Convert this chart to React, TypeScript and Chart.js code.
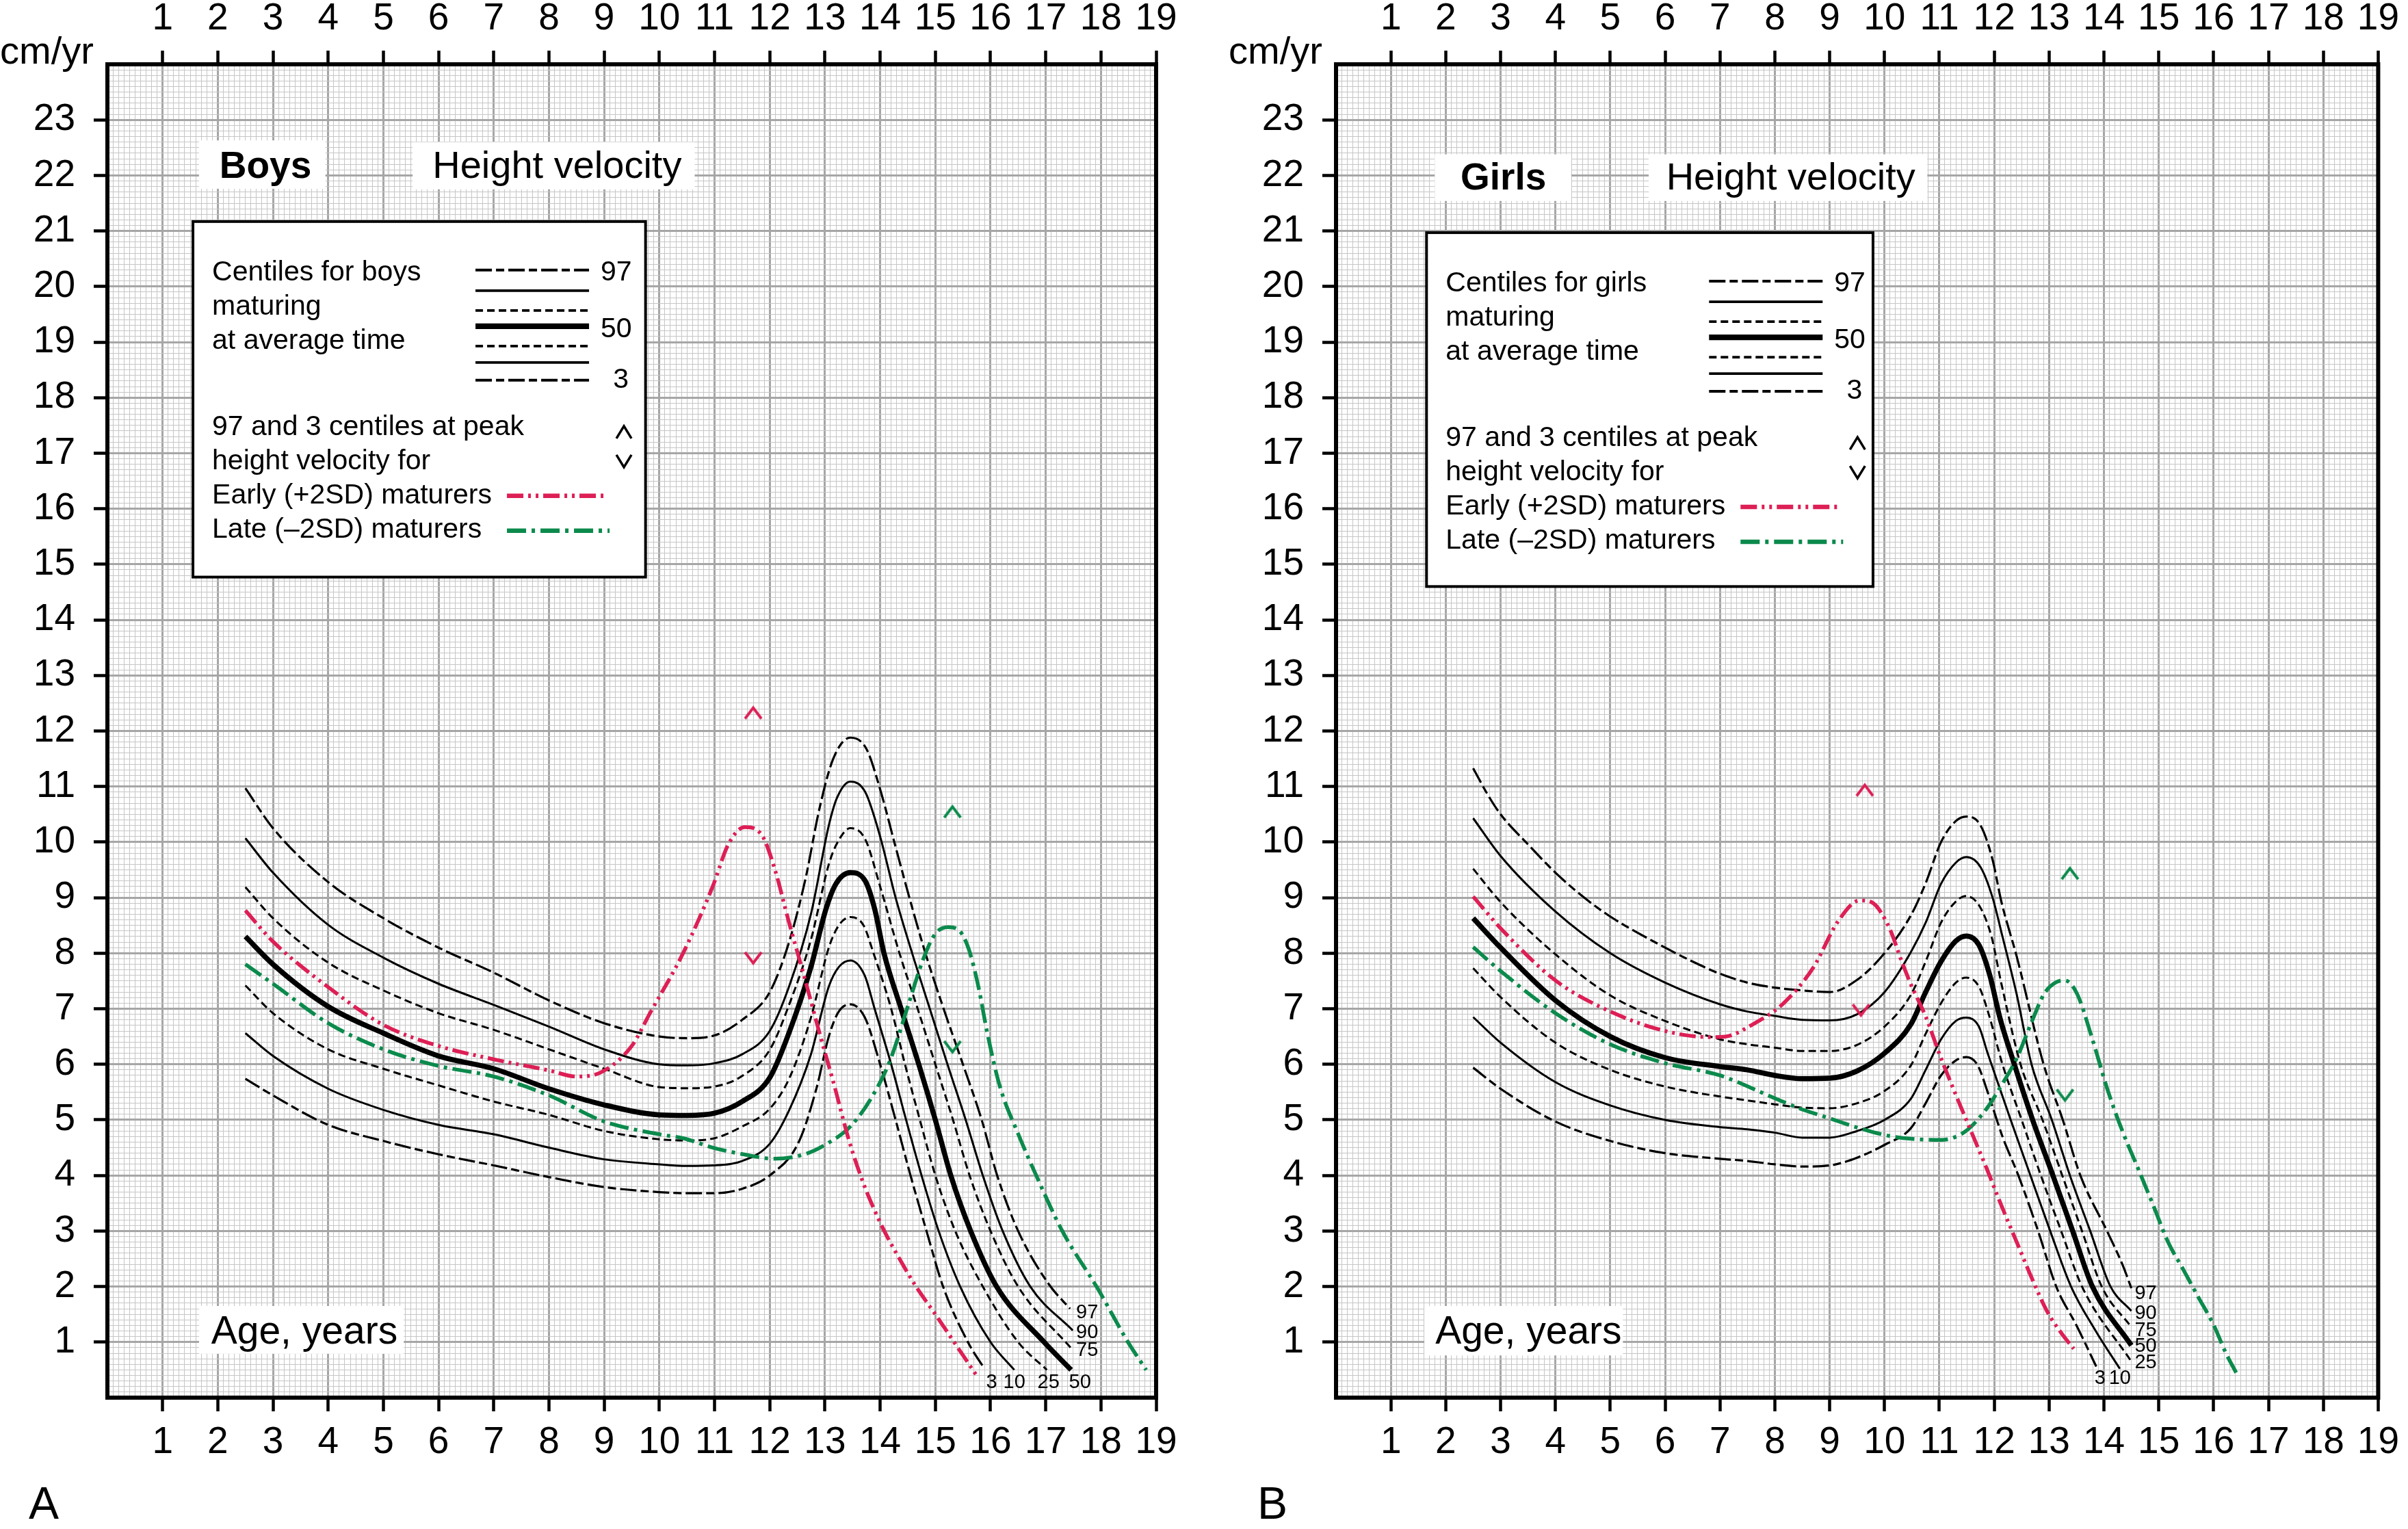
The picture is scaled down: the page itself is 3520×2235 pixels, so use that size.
import React, { useEffect, useRef } from "react";
import { Chart, registerables } from "chart.js";

Chart.register(...registerables);

type Pt = [number, number];

const FONT = "'Liberation Sans', Arial, Helvetica, sans-serif";

// ---------------- axis tick labels ----------------
const ageTickLabels = [1, 2, 3, 4, 5, 6, 7, 8, 9, 10, 11, 12, 13, 14, 15, 16, 17, 18, 19];
const velocityTickLabels = [1, 2, 3, 4, 5, 6, 7, 8, 9, 10, 11, 12, 13, 14, 15, 16, 17, 18, 19, 20, 21, 22, 23];
const centileNames = ["97", "90", "75", "50", "25", "10", "3"];

// ---------------- Boys (age, cm/yr) ----------------
const boys97: Pt[] = [[2.5,10.97],[3,10.25],[4,9.28],[5,8.63],[6,8.1],[7,7.65],[8,7.15],[9,6.74],[10,6.5],[10.5,6.47],[11,6.52],[11.5,6.8],[12,7.3],[12.35,8.2],[12.65,9.35],[12.9,10.6],[13.15,11.5],[13.46,11.88],[13.75,11.68],[14.0,10.95],[14.27,9.95],[14.53,9.0],[14.82,8.0],[15.15,7.0],[15.5,6.0],[15.84,5.0],[16.12,4.0],[16.5,3.0],[17.05,2.05],[17.44,1.6]];
const boys90: Pt[] = [[2.5,10.07],[3,9.45],[4,8.51],[5,7.92],[6,7.45],[7,7.07],[8,6.68],[9,6.27],[10,6.0],[10.5,5.98],[11,6.02],[11.5,6.18],[12,6.6],[12.35,7.4],[12.75,8.72],[13.07,10.3],[13.22,10.8],[13.46,11.09],[13.73,10.9],[14.0,10.1],[14.28,9.0],[14.58,8.0],[14.9,7.0],[15.22,6.0],[15.55,5.0],[15.86,4.0],[16.22,3.0],[16.72,2.0],[17.49,1.21]];
const boys75: Pt[] = [[2.5,9.19],[3,8.63],[4,7.83],[5,7.33],[6,6.92],[7,6.62],[8,6.27],[9,5.92],[10,5.59],[10.5,5.57],[11,5.6],[11.5,5.79],[12,6.26],[12.35,7.07],[12.74,8.22],[13.07,9.6],[13.22,9.98],[13.46,10.25],[13.73,10.05],[14.0,9.2],[14.35,8.0],[14.68,7.0],[15.0,6.0],[15.32,5.0],[15.62,4.0],[16.0,3.0],[16.5,2.0],[17.46,0.89]];
const boys50: Pt[] = [[2.5,8.3],[3,7.8],[4,7.04],[5,6.56],[6,6.15],[7,5.92],[8,5.56],[9,5.27],[10,5.09],[10.5,5.08],[11,5.12],[11.5,5.33],[12,5.76],[12.35,6.57],[12.74,7.73],[13.02,8.8],[13.2,9.25],[13.46,9.45],[13.73,9.3],[13.9,8.8],[14.07,8.0],[14.38,7.0],[14.7,6.0],[15.0,5.0],[15.28,4.0],[15.64,3.0],[16.11,2.0],[16.97,1.0],[17.46,0.5]];
const boys25: Pt[] = [[2.5,7.42],[3,6.92],[4,6.27],[5,5.92],[6,5.62],[7,5.33],[8,5.09],[9,4.8],[10,4.65],[10.5,4.63],[11,4.67],[11.5,4.88],[12,5.2],[12.35,5.74],[12.74,6.82],[13.07,8.1],[13.25,8.5],[13.46,8.65],[13.7,8.5],[13.88,8.0],[14.2,7.0],[14.45,6.0],[14.72,5.0],[15.0,4.0],[15.36,3.0],[15.86,2.0],[16.5,1.0],[17.02,0.5]];
const boys10: Pt[] = [[2.5,6.56],[3,6.15],[4,5.56],[5,5.18],[6,4.91],[7,4.74],[8,4.5],[9,4.29],[10,4.2],[10.5,4.17],[11,4.18],[11.5,4.26],[12,4.57],[12.35,5.17],[12.74,6.16],[13.07,7.4],[13.25,7.75],[13.46,7.87],[13.72,7.6],[13.9,7.0],[14.2,6.0],[14.47,5.0],[14.75,4.0],[15.06,3.0],[15.45,2.0],[16.0,1.0],[16.43,0.5]];
const boys3: Pt[] = [[2.5,5.74],[3,5.44],[4,4.91],[5,4.62],[6,4.38],[7,4.18],[8,3.97],[9,3.79],[10,3.7],[10.5,3.68],[11,3.68],[11.5,3.76],[12,4.0],[12.52,4.59],[12.85,5.58],[13.07,6.5],[13.25,6.95],[13.46,7.08],[13.72,6.85],[14.0,6.0],[14.28,5.0],[14.55,4.0],[14.84,3.0],[15.14,2.0],[15.59,1.0],[15.89,0.52]];
const boysEarly: Pt[] = [[2.5,8.77],[3,8.21],[4,7.39],[5,6.71],[6,6.33],[7,6.09],[8,5.89],[8.5,5.78],[8.95,5.86],[9.5,6.33],[9.83,6.92],[10.43,8.0],[10.97,9.21],[11.25,9.96],[11.55,10.27],[11.86,10.12],[12.08,9.55],[12.35,8.55],[12.63,7.56],[12.9,6.57],[13.18,5.58],[13.43,4.65],[13.7,3.85],[14.05,3.05],[14.35,2.5],[14.65,2.0],[15.0,1.5],[15.34,1.0],[15.78,0.35]];
const boysLate: Pt[] = [[2.5,7.8],[3,7.45],[4,6.74],[5,6.27],[6,5.97],[7,5.78],[8,5.44],[9,4.97],[10,4.74],[10.43,4.67],[10.97,4.5],[11.52,4.38],[12.08,4.3],[12.63,4.38],[13.07,4.59],[13.46,4.88],[13.85,5.41],[14.18,6.07],[14.51,7.07],[14.78,7.89],[15.0,8.35],[15.23,8.47],[15.45,8.39],[15.61,8.06],[15.78,7.4],[15.94,6.57],[16.17,5.6],[16.5,4.75],[16.85,3.95],[17.3,3.0],[17.95,1.95],[18.49,1.0],[18.82,0.5]];
const boysEarlyPeakRange: Pt[] = [[11.7,12.32],[11.7,7.92]];
const boysLatePeakRange: Pt[] = [[15.31,10.54],[15.31,6.32]];

// ---------------- Girls (age, cm/yr) ----------------
const girls97: Pt[] = [[2.5,11.33],[2.75,10.88],[3,10.5],[3.5,9.96],[4,9.45],[4.5,9.02],[5,8.66],[6,8.1],[6.5,7.85],[7,7.63],[7.5,7.47],[8,7.38],[8.5,7.33],[9,7.3],[9.5,7.52],[10,8.0],[10.48,8.68],[10.75,9.26],[11.03,10.0],[11.3,10.38],[11.49,10.46],[11.75,10.3],[11.97,9.68],[12.13,8.93],[12.41,7.94],[12.9,6.0],[13.25,5.0],[13.57,4.0],[14.07,2.97],[14.34,2.39],[14.5,1.97]];
const girls90: Pt[] = [[2.5,10.43],[3,9.75],[4,8.75],[5,8.0],[6,7.47],[7,7.08],[7.5,6.95],[8,6.87],[8.5,6.8],[9,6.79],[9.5,6.9],[10,7.3],[10.48,8.02],[10.75,8.55],[11.03,9.25],[11.3,9.63],[11.49,9.73],[11.75,9.55],[11.97,9.0],[12.15,8.3],[12.4,7.3],[12.68,6.0],[13.05,5.0],[13.38,4.0],[13.75,3.0],[14.12,2.0],[14.5,1.56]];
const girls75: Pt[] = [[2.5,9.52],[3,8.92],[4,7.98],[5,7.24],[6,6.78],[7,6.45],[7.5,6.36],[8,6.3],[8.5,6.24],[9,6.24],[9.5,6.35],[10,6.68],[10.48,7.25],[10.75,7.85],[11.03,8.55],[11.3,8.93],[11.49,9.03],[11.73,8.85],[11.95,8.3],[12.12,7.5],[12.48,6.0],[12.88,5.0],[13.24,4.0],[13.6,3.0],[13.96,2.0],[14.5,1.27]];
const girls50: Pt[] = [[2.5,8.63],[3,8.1],[4,7.15],[5,6.5],[6,6.12],[7,5.96],[7.5,5.9],[8,5.8],[8.5,5.74],[9,5.75],[9.5,5.88],[10,6.2],[10.48,6.72],[10.75,7.3],[11.03,7.85],[11.3,8.22],[11.49,8.31],[11.72,8.15],[11.92,7.6],[12.1,6.85],[12.35,6.05],[12.7,5.0],[13.07,4.0],[13.43,3.0],[13.79,2.0],[14.5,0.94]];
const girls25: Pt[] = [[2.5,7.73],[3,7.21],[4,6.39],[5,5.9],[6,5.6],[7,5.42],[7.5,5.35],[8,5.28],[8.5,5.22],[9,5.21],[9.5,5.3],[10,5.52],[10.48,5.98],[10.75,6.55],[11.03,7.1],[11.3,7.47],[11.49,7.56],[11.72,7.4],[11.9,6.9],[12.15,6.0],[12.5,5.0],[12.85,4.0],[13.22,3.0],[13.6,2.0],[14.5,0.65]];
const girls10: Pt[] = [[2.5,6.85],[3,6.39],[4,5.68],[5,5.26],[6,5.0],[7,4.87],[7.5,4.83],[8,4.77],[8.5,4.68],[9,4.68],[9.5,4.8],[10,5.0],[10.48,5.38],[10.75,5.9],[11.03,6.45],[11.3,6.78],[11.49,6.84],[11.72,6.68],[11.88,6.2],[11.95,6.0],[12.3,5.0],[12.66,4.0],[13.02,3.0],[13.4,2.0],[13.85,1.2],[14.29,0.52]];
const girls3: Pt[] = [[2.5,5.94],[3,5.56],[4,4.97],[5,4.62],[6,4.4],[7,4.3],[7.5,4.26],[8,4.2],[8.5,4.16],[9,4.18],[9.5,4.32],[10,4.55],[10.48,4.85],[10.75,5.3],[11.03,5.8],[11.3,6.07],[11.49,6.13],[11.7,5.98],[11.88,5.5],[12.15,4.7],[12.44,4.0],[12.8,3.0],[13.13,2.0],[13.5,1.3],[13.86,0.56]];
const girlsEarly: Pt[] = [[2.5,9.02],[3,8.45],[4,7.51],[5,6.95],[6,6.6],[6.8,6.49],[7.1,6.5],[7.6,6.72],[8.16,7.1],[8.7,7.74],[9.15,8.57],[9.55,8.95],[9.76,8.92],[10.09,8.45],[10.31,7.86],[10.48,7.44],[10.75,6.86],[11.03,6.11],[11.3,5.45],[11.58,4.79],[11.86,4.13],[12.13,3.46],[12.41,2.8],[12.69,2.14],[12.96,1.56],[13.24,1.14],[13.45,0.88]];
const girlsLate: Pt[] = [[2.5,8.11],[3,7.68],[4,6.92],[5,6.36],[6,6.02],[7,5.8],[7.88,5.44],[8.44,5.21],[8.99,5.03],[9.54,4.85],[10.09,4.71],[10.48,4.66],[11.03,4.64],[11.47,4.79],[11.86,5.2],[12.13,5.62],[12.41,6.11],[12.69,6.78],[12.91,7.27],[13.13,7.48],[13.29,7.51],[13.51,7.27],[13.79,6.45],[14.07,5.53],[14.34,4.79],[14.62,4.13],[14.9,3.46],[15.17,2.8],[15.45,2.3],[15.72,1.81],[16.0,1.31],[16.22,0.81],[16.41,0.45]];
const girlsEarlyPeakRange: Pt[] = [[9.64,10.93],[9.57,6.98]];
const girlsLatePeakRange: Pt[] = [[13.38,9.43],[13.29,5.45]];

// ---------------- styles ----------------
const CENTILE_STYLE: Record<string, { w: number; dash: number[] }> = {
  "97": { w: 3.2, dash: [24, 6, 12, 6] },
  "90": { w: 3.0, dash: [] },
  "75": { w: 3.0, dash: [11, 6] },
  "50": { w: 7.5, dash: [] },
  "25": { w: 3.0, dash: [11, 6] },
  "10": { w: 3.0, dash: [] },
  "3": { w: 3.2, dash: [24, 6, 12, 6] },
};
const EARLY = { color: "#dd1f55", w: 5.5, dash: [24, 7, 4, 7, 4, 7] };
const LATE = { color: "#0b8a4c", w: 5.5, dash: [28, 8, 5, 8] };
const MAJOR = "#a6a6a6";
const MINOR = "#c6c6c6";

const isInt = (v: number) => Math.abs(v - Math.round(v)) < 1e-6;
const toXY = (pts: Pt[]) => pts.map(([x, y]) => ({ x, y }));

function chevron(color: string, up: boolean, w = 24, h = 16, lw = 4): HTMLCanvasElement {
  const c = document.createElement("canvas");
  c.width = w + 8;
  c.height = h + 8;
  const g = c.getContext("2d")!;
  g.strokeStyle = color;
  g.lineWidth = lw;
  g.lineJoin = "miter";
  g.beginPath();
  if (up) {
    g.moveTo(4, h + 4);
    g.lineTo(w / 2 + 4, 4);
    g.lineTo(w + 4, h + 4);
  } else {
    g.moveTo(4, 4);
    g.lineTo(w / 2 + 4, h + 4);
    g.lineTo(w + 4, 4);
  }
  g.stroke();
  return c;
}

interface Label { t: string; x: number; y: number; align: CanvasTextAlign }
interface PanelDef {
  key: string;
  canvasLeft: number;
  leftAxis: number;
  rightPad: number;
  centiles: Pt[][];
  early: Pt[];
  late: Pt[];
  earlyCarets: Pt[];
  lateCarets: Pt[];
  title: string;
  titleBox: number[];
  titleX: number;
  titleBase: number;
  hvBox: number[];
  hvX: number;
  legendBox: number[];
  legendHead: string[];
  ageBox: number[];
  ageX: number;
  ageBase: number;
  endLabels: Label[];
  letter: string;
}

const PANELS: PanelDef[] = [
  {
    key: "boys",
    canvasLeft: 0,
    leftAxis: 157,
    rightPad: 70,
    centiles: [boys97, boys90, boys75, boys50, boys25, boys10, boys3],
    early: boysEarly,
    late: boysLate,
    earlyCarets: boysEarlyPeakRange,
    lateCarets: boysLatePeakRange,
    title: "Boys",
    titleBox: [1.66, 22.63, 3.95, 21.76],
    titleX: 2.03,
    titleBase: 21.95,
    hvBox: [5.53, 22.6, 10.64, 21.75],
    hvX: 5.89,
    legendBox: [1.55, 21.17, 9.75, 14.77],
    legendHead: ["Centiles for boys", "maturing", "at average time"],
    ageBox: [1.66, 1.65, 5.37, 0.79],
    ageX: 1.88,
    ageBase: 0.97,
    endLabels: [
      { t: "97", x: 17.55, y: 1.53, align: "left" },
      { t: "90", x: 17.55, y: 1.17, align: "left" },
      { t: "75", x: 17.55, y: 0.85, align: "left" },
      { t: "3", x: 16.02, y: 0.27, align: "center" },
      { t: "10", x: 16.43, y: 0.27, align: "center" },
      { t: "25", x: 17.05, y: 0.27, align: "center" },
      { t: "50", x: 17.62, y: 0.27, align: "center" },
    ],
    letter: "A",
  },
  {
    key: "girls",
    canvasLeft: 1760,
    leftAxis: 193,
    rightPad: 34,
    centiles: [girls97, girls90, girls75, girls50, girls25, girls10, girls3],
    early: girlsEarly,
    late: girlsLate,
    earlyCarets: girlsEarlyPeakRange,
    lateCarets: girlsLatePeakRange,
    title: "Girls",
    titleBox: [1.8, 22.38, 4.29, 21.54],
    titleX: 2.27,
    titleBase: 21.75,
    hvBox: [5.7, 22.38, 10.78, 21.54],
    hvX: 6.02,
    legendBox: [1.65, 20.97, 9.79, 14.6],
    legendHead: ["Centiles for girls", "maturing", "at average time"],
    ageBox: [1.61, 1.65, 5.23, 0.76],
    ageX: 1.81,
    ageBase: 0.97,
    endLabels: [
      { t: "97", x: 14.56, y: 1.87, align: "left" },
      { t: "90", x: 14.56, y: 1.52, align: "left" },
      { t: "75", x: 14.56, y: 1.21, align: "left" },
      { t: "50", x: 14.56, y: 0.92, align: "left" },
      { t: "25", x: 14.56, y: 0.63, align: "left" },
      { t: "3", x: 13.93, y: 0.34, align: "center" },
      { t: "10", x: 14.29, y: 0.34, align: "center" },
    ],
    letter: "B",
  },
];

function overlayPlugin(p: PanelDef) {
  return {
    id: "overlay_" + p.key,
    afterDraw(chart: any) {
      const ctx = chart.ctx as CanvasRenderingContext2D;
      const xs = chart.scales.x;
      const ys = chart.scales.y;
      const a = chart.chartArea;
      const X = (v: number) => xs.getPixelForValue(v);
      const Y = (v: number) => ys.getPixelForValue(v);
      ctx.save();
      const box = (b: number[], stroke = 0) => {
        const x0 = X(b[0]), y0 = Y(b[1]), x1 = X(b[2]), y1 = Y(b[3]);
        ctx.fillStyle = "#fff";
        ctx.fillRect(x0, y0, x1 - x0, y1 - y0);
        if (stroke) {
          ctx.setLineDash([]);
          ctx.lineWidth = stroke;
          ctx.strokeStyle = "#000";
          ctx.strokeRect(x0, y0, x1 - x0, y1 - y0);
        }
        return [x0, y0];
      };
      const text = (s: string, x: number, y: number, size: number, bold = false, align: CanvasTextAlign = "left", base: CanvasTextBaseline = "alphabetic") => {
        ctx.font = `${bold ? "bold " : ""}${size}px ${FONT}`;
        ctx.fillStyle = "#000";
        ctx.textAlign = align;
        ctx.textBaseline = base;
        ctx.fillText(s, x, y);
      };
      const seg = (x0: number, x1: number, y: number, color: string, w: number, dash: number[]) => {
        ctx.beginPath();
        ctx.setLineDash(dash);
        ctx.lineWidth = w;
        ctx.strokeStyle = color;
        ctx.moveTo(x0, y);
        ctx.lineTo(x1, y);
        ctx.stroke();
        ctx.setLineDash([]);
      };
      const chev = (cx: number, cy: number, up: boolean) => {
        ctx.beginPath();
        ctx.setLineDash([]);
        ctx.lineWidth = 3.5;
        ctx.strokeStyle = "#000";
        const w = 11, h = 9;
        if (up) {
          ctx.moveTo(cx - w, cy + h);
          ctx.lineTo(cx, cy - h);
          ctx.lineTo(cx + w, cy + h);
        } else {
          ctx.moveTo(cx - w, cy - h);
          ctx.lineTo(cx, cy + h);
          ctx.lineTo(cx + w, cy - h);
        }
        ctx.stroke();
      };

      // title boxes
      box(p.titleBox);
      text(p.title, X(p.titleX), Y(p.titleBase), 55, true);
      box(p.hvBox);
      text("Height velocity", X(p.hvX), Y(p.titleBase), 56);
      box(p.ageBox);
      text("Age, years", X(p.ageX), Y(p.ageBase), 57);

      // legend
      const [lx, ly] = box(p.legendBox, 4);
      const lf = 41;
      p.legendHead.forEach((s, i) => text(s, lx + 28, ly + 86 + 50 * i, lf));
      ["97 and 3 centiles at peak", "height velocity for", "Early (+2SD) maturers", "Late (\u20132SD) maturers"].forEach((s, i) =>
        text(s, lx + 28, ly + 312 + 50 * i, lf)
      );
      const sampleY = [71, 101, 130, 153, 182, 206, 232];
      centileNames.forEach((n, i) => {
        const st = CENTILE_STYLE[n];
        seg(lx + 413, lx + 579, ly + sampleY[i], "#000", st.w + 0.8, st.dash);
      });
      text("97", lx + 596, ly + 86, lf);
      text("50", lx + 596, ly + 169, lf);
      text("3", lx + 637, ly + 243, lf, false, "right");
      chev(lx + 630, ly + 308, true);
      chev(lx + 630, ly + 350, false);
      seg(lx + 459, lx + 607, ly + 401, EARLY.color, EARLY.w + 1, EARLY.dash);
      seg(lx + 459, lx + 609, ly + 452, LATE.color, LATE.w + 1, LATE.dash);

      // end-of-curve centile labels
      p.endLabels.forEach((l) => text(l.t, X(l.x), Y(l.y), 29, false, l.align, "middle"));

      // unit label and panel letter
      text("cm/yr", a.left - 157, 93, 56);
      text(p.letter, a.left - 115, 2220, 66);

      // frame
      ctx.setLineDash([]);
      ctx.lineWidth = 6;
      ctx.strokeStyle = "#000";
      ctx.strokeRect(a.left, a.top, a.right - a.left, a.bottom - a.top);
      ctx.restore();
    },
  };
}

function buildConfig(p: PanelDef): any {
  const upE = chevron(EARLY.color, true);
  const dnE = chevron(EARLY.color, false);
  const upL = chevron(LATE.color, true);
  const dnL = chevron(LATE.color, false);

  const datasets: any[] = [];
  p.centiles.forEach((pts, i) => {
    const name = centileNames[i];
    const st = CENTILE_STYLE[name];
    datasets.push({
      label: name + "th centile",
      data: toXY(pts),
      borderColor: "#000",
      borderWidth: st.w,
      borderDash: st.dash,
      pointRadius: 0,
      fill: false,
      cubicInterpolationMode: "monotone",
      order: name === "50" ? 2 : 3,
    });
  });
  datasets.push({
    label: "Early (+2SD) maturers",
    data: toXY(p.early),
    borderColor: EARLY.color,
    borderWidth: EARLY.w,
    borderDash: EARLY.dash,
    pointRadius: 0,
    fill: false,
    cubicInterpolationMode: "monotone",
    order: 1,
  });
  datasets.push({
    label: "Late (\u20132SD) maturers",
    data: toXY(p.late),
    borderColor: LATE.color,
    borderWidth: LATE.w,
    borderDash: LATE.dash,
    pointRadius: 0,
    fill: false,
    cubicInterpolationMode: "monotone",
    order: 1,
  });
  datasets.push({
    label: "Early peak 97/3",
    data: toXY(p.earlyCarets),
    showLine: false,
    pointStyle: [upE, dnE],
    pointRadius: 10,
    order: 0,
  });
  datasets.push({
    label: "Late peak 97/3",
    data: toXY(p.lateCarets),
    showLine: false,
    pointStyle: [upL, dnL],
    pointRadius: 10,
    order: 0,
  });

  const tickFont = { family: FONT, size: 55 };
  const gridMain = (has: (v: number) => boolean) => ({
    display: true,
    drawOnChartArea: true,
    drawTicks: true,
    tickLength: 20,
    color: (c: any) => (isInt(c.tick.value) ? MAJOR : MINOR),
    lineWidth: (c: any) => (isInt(c.tick.value) ? 3 : 1),
    tickColor: (c: any) => (isInt(c.tick.value) && has(c.tick.value) ? "#000" : "rgba(0,0,0,0)"),
    tickWidth: (c: any) => (isInt(c.tick.value) ? 4.5 : 1),
  });
  const gridTop = (has: (v: number) => boolean) => ({
    ...gridMain(has),
    drawOnChartArea: false,
  });
  const xLabel = (v: any) => {
    const r = Math.round(Number(v));
    return isInt(Number(v)) && ageTickLabels.includes(r) ? String(r) : "";
  };
  const yLabel = (v: any) => {
    const r = Math.round(Number(v));
    return isInt(Number(v)) && velocityTickLabels.includes(r) ? String(r) : "";
  };
  const xHas = (v: number) => ageTickLabels.includes(Math.round(v));
  const yHas = (v: number) => velocityTickLabels.includes(Math.round(v));

  return {
    type: "line",
    data: { datasets },
    options: {
      animation: false,
      responsive: false,
      maintainAspectRatio: false,
      devicePixelRatio: 1,
      events: [],
      layout: { padding: { left: 0, right: p.rightPad, top: 0, bottom: 0 } },
      plugins: { legend: { display: false }, tooltip: { enabled: false } },
      scales: {
        x: {
          type: "linear",
          position: "bottom",
          min: 0,
          max: 19,
          ticks: { stepSize: 0.1, autoSkip: false, maxRotation: 0, minRotation: 0, padding: 13, font: tickFont, color: "#000", callback: xLabel },
          grid: gridMain(xHas),
          border: { display: false },
          afterFit: (s: any) => {
            s.height = 192;
          },
        },
        xTop: {
          type: "linear",
          position: "top",
          min: 0,
          max: 19,
          ticks: { stepSize: 0.1, autoSkip: false, maxRotation: 0, minRotation: 0, padding: 13, font: tickFont, color: "#000", callback: xLabel },
          grid: gridTop(xHas),
          border: { display: false },
          afterFit: (s: any) => {
            s.height = 94;
          },
        },
        y: {
          type: "linear",
          position: "left",
          min: 0,
          max: 24,
          ticks: { stepSize: 0.1, autoSkip: false, padding: 27, font: tickFont, color: "#000", callback: yLabel },
          grid: gridMain(yHas),
          border: { display: false },
          afterFit: (s: any) => {
            s.width = p.leftAxis;
          },
        },
      },
    },
    plugins: [overlayPlugin(p)],
  };
}

function PanelChart({ panel }: { panel: PanelDef }) {
  const ref = useRef<HTMLCanvasElement>(null);
  useEffect(() => {
    Chart.defaults.font.family = FONT;
    const chart = new Chart(ref.current as HTMLCanvasElement, buildConfig(panel));
    return () => chart.destroy();
  }, [panel]);
  return (
    <canvas
      ref={ref}
      width={1760}
      height={2235}
      style={{ position: "absolute", left: panel.canvasLeft, top: 0, width: 1760, height: 2235 }}
    />
  );
}

export default function App() {
  useEffect(() => {
    document.documentElement.style.overflow = "hidden";
    document.body.style.margin = "0";
  }, []);
  return (
    <div style={{ position: "absolute", left: 0, top: 0, width: 3520, height: 2235, background: "#fff", overflow: "hidden" }}>
      {PANELS.map((p) => (
        <PanelChart key={p.key} panel={p} />
      ))}
    </div>
  );
}
